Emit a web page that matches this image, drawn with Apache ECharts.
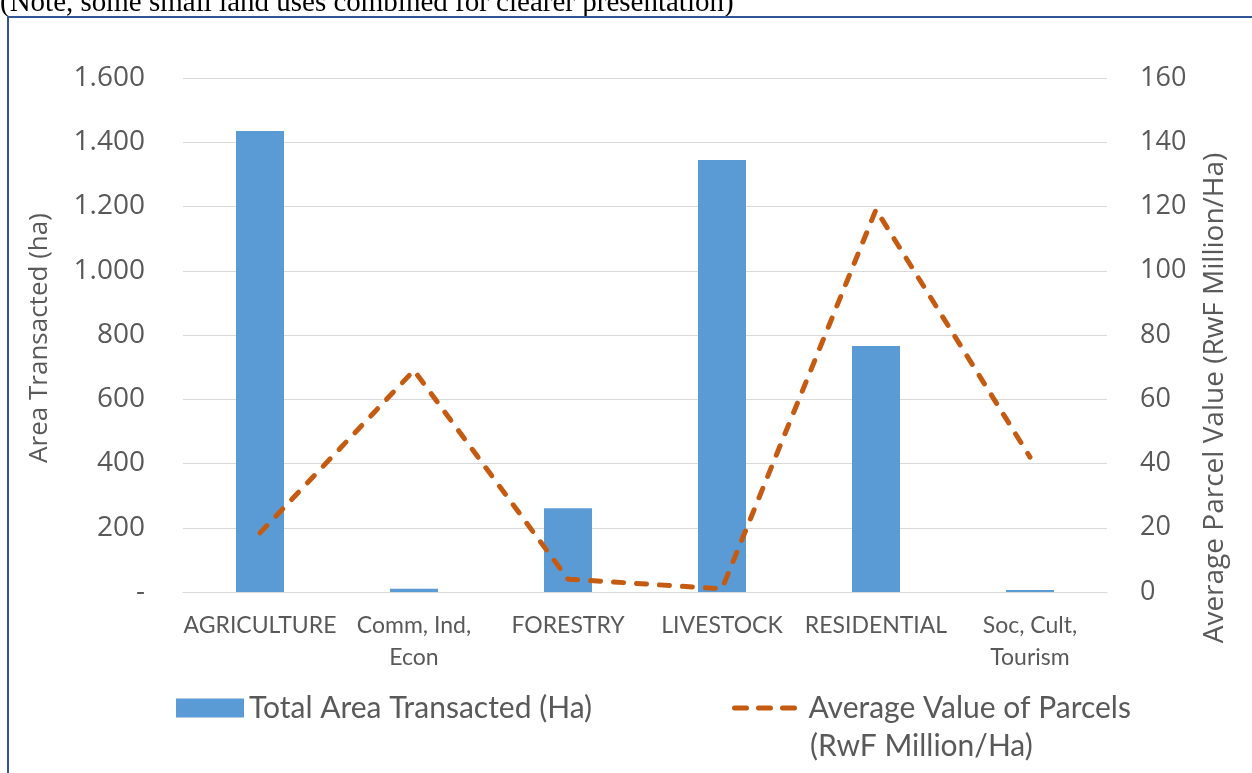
<!DOCTYPE html>
<html>
<head>
<meta charset="utf-8">
<script src="https://cdn.jsdelivr.net/npm/echarts@6/dist/echarts.min.js"></script>
<style>
html,body{margin:0;padding:0;background:#fff;}
#chart{width:1252px;height:773px;}
</style>
</head>
<body>
<div id="chart"></div>
<script>
var categories = ['AGRICULTURE','Comm, Ind,\nEcon','FORESTRY','LIVESTOCK','RESIDENTIAL','Soc, Cult,\nTourism'];
var areaTransacted = [1435, 10, 261, 1345, 766, 6];
var avgParcelValue = [18.4, 69, 4, 1, 119, 42];
var leftTicks = [0, 1600, 200];
var rightTicks = [0, 160, 20];

var AREA_NAME = 'Total Area Transacted (Ha)';
var VALUE_NAME = 'Average Value of Parcels';

var TEXT_COLOR = '#595959';
var LINE_COLOR = '#C55A11';

// 0 shown as a dash, thousands with a dot
function formatArea(v){
	if(v === 0) return '-';
	var s = String(v);
	if(v >= 1000){
		s = s.slice(0, s.length-3) + '.' + s.slice(s.length-3);
	}
	return s;
}

// three rounded dashes for the legend
var dashIcon = 'path://M2.5,0h12a2.5,2.5 0 0 1 0,5h-12a2.5,2.5 0 0 1 0,-5z'
	+ 'M26.5,0h12a2.5,2.5 0 0 1 0,5h-12a2.5,2.5 0 0 1 0,-5z'
	+ 'M50.5,0h12a2.5,2.5 0 0 1 0,5h-12a2.5,2.5 0 0 1 0,-5z';

var myChart = echarts.init(document.getElementById('chart'));
myChart.setOption({
	animation:false,
	backgroundColor:'#fff',
	grid:{
		left:183,
		right:145,
		top:78,
		bottom:181
	},
	legend:[
		{
			left:176,
			top:693,
			padding:0,
			itemWidth:68,
			itemHeight:19,
			itemGap:0,
			textStyle:{color:TEXT_COLOR, fontSize:30, fontFamily:'Lato', padding:[0,0,0,0]},
			data:[{name:AREA_NAME, icon:'rect'}]
		},
		{
			left:732,
			top:693,
			padding:0,
			itemWidth:66,
			itemHeight:5,
			textStyle:{color:TEXT_COLOR, fontSize:30, fontFamily:'Lato', padding:[0,0,0,6]},
			data:[{name:VALUE_NAME, icon:dashIcon}]
		}
	],
	xAxis:{
		type:'category',
		data:categories,
		axisTick:{show:false},
		axisLine:{show:true, lineStyle:{color:'#D9D9D9', width:1}},
		axisLabel:{
			color:TEXT_COLOR,
			fontSize:23,
			fontFamily:'Lato',
			lineHeight:32,
			margin:18,
			interval:0
		}
	},
	yAxis:[
		{
			type:'value',
			min:leftTicks[0],
			max:leftTicks[1],
			interval:leftTicks[2],
			axisLine:{show:false},
			axisTick:{show:false},
			splitLine:{lineStyle:{color:'#D9D9D9', width:1}},
			axisLabel:{
				color:TEXT_COLOR,
				fontSize:28,
				fontFamily:'Open Sans',
				margin:38,
				formatter:formatArea
			}
		},
		{
			type:'value',
			min:rightTicks[0],
			max:rightTicks[1],
			interval:rightTicks[2],
			axisLine:{show:false},
			axisTick:{show:false},
			splitLine:{show:false},
			axisLabel:{
				color:TEXT_COLOR,
				fontSize:27,
				fontFamily:'Open Sans',
				margin:33
			}
		}
	],
	graphic:[
		{
			type:'text',
			left:0,
			top:-11,
			style:{
				text:'(Note, some small land uses combined for clearer presentation)',
				font:'29px "Liberation Serif"',
				fill:'#000'
			}
		},
		{
			type:'rect',
			shape:{x:8, y:17, width:1300, height:800},
			style:{fill:'none', stroke:'#2F5597', lineWidth:2}
		},
		{
			type:'text',
			x:40,
			y:338,
			rotation:Math.PI/2,
			style:{
				text:'Area Transacted (ha)',
				font:'26px "Open Sans"',
				fill:TEXT_COLOR,
				align:'center',
				verticalAlign:'middle'
			}
		},
		{
			type:'text',
			x:1215,
			y:398,
			rotation:Math.PI/2,
			style:{
				text:'Average Parcel Value (RwF Million/Ha)',
				font:'28px "Open Sans"',
				fill:TEXT_COLOR,
				align:'center',
				verticalAlign:'middle'
			}
		},
		{
			type:'text',
			left:810,
			top:731,
			style:{
				text:'(RwF Million/Ha)',
				font:'30px Lato',
				fill:TEXT_COLOR
			}
		}
	],
	series:[
		{
			name:AREA_NAME,
			type:'bar',
			yAxisIndex:0,
			barWidth:48,
			itemStyle:{color:'#5B9BD5'},
			data:areaTransacted
		},
		{
			name:VALUE_NAME,
			type:'line',
			yAxisIndex:1,
			symbol:'none',
			lineStyle:{color:LINE_COLOR, width:5, type:[10,13], cap:'round'},
			itemStyle:{color:LINE_COLOR},
			data:avgParcelValue
		}
	]
});
</script>
</body>
</html>
